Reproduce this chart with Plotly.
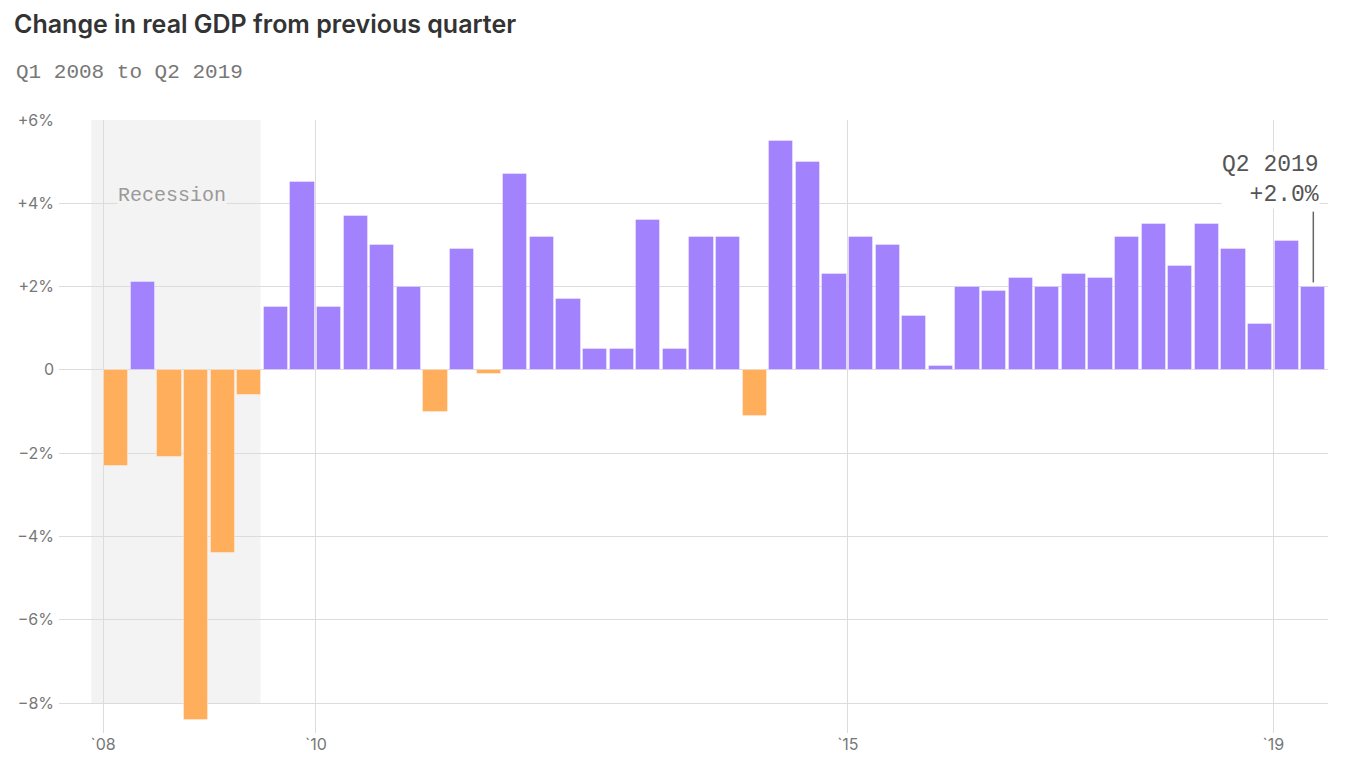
import plotly.graph_objects as go

quarters = [
    "Q1 2008", "Q2 2008", "Q3 2008", "Q4 2008",
    "Q1 2009", "Q2 2009", "Q3 2009", "Q4 2009",
    "Q1 2010", "Q2 2010", "Q3 2010", "Q4 2010",
    "Q1 2011", "Q2 2011", "Q3 2011", "Q4 2011",
    "Q1 2012", "Q2 2012", "Q3 2012", "Q4 2012",
    "Q1 2013", "Q2 2013", "Q3 2013", "Q4 2013",
    "Q1 2014", "Q2 2014", "Q3 2014", "Q4 2014",
    "Q1 2015", "Q2 2015", "Q3 2015", "Q4 2015",
    "Q1 2016", "Q2 2016", "Q3 2016", "Q4 2016",
    "Q1 2017", "Q2 2017", "Q3 2017", "Q4 2017",
    "Q1 2018", "Q2 2018", "Q3 2018", "Q4 2018",
    "Q1 2019", "Q2 2019",
]
gdp_change = [
    -2.3, 2.1, -2.1, -8.4,
    -4.4, -0.6, 1.5, 4.5,
    1.5, 3.7, 3.0, 2.0,
    -1.0, 2.9, -0.1, 4.7,
    3.2, 1.7, 0.5, 0.5,
    3.6, 0.5, 3.2, 3.2,
    -1.1, 5.5, 5.0, 2.3,
    3.2, 3.0, 1.3, 0.1,
    2.0, 1.9, 2.2, 2.0,
    2.3, 2.2, 3.2, 3.5,
    2.5, 3.5, 2.9, 1.1,
    3.1, 2.0,
]
x_tick_years = [2008, 2010, 2015, 2019]
x_tick_labels = ["`08", "`10", "`15", "`19"]
y_tick_vals = [-8, -6, -4, -2, 0, 2, 4, 6]
y_tick_labels = ["\u22128%", "\u22126%", "\u22124%", "\u22122%", "0", "+2%", "+4%", "+6%"]
recession_start = 2007.89
recession_end = 2009.48

POS = "#a283fd"
NEG = "#ffae5c"
MONO = "Liberation Mono, DejaVu Sans Mono, monospace"
SANS = "Inter, Roboto, Liberation Sans, sans-serif"

PLOT_W = 1366 - 59 - 38
PLOT_H = 768 - 120 - 35


def q_to_x(label):
    q, y = label.split()
    return int(y) + (int(q[1]) - 1) / 4 + 0.125


xs = [q_to_x(q) for q in quarters]
colors = [POS if v >= 0 else NEG for v in gdp_change]

fig = go.Figure()
fig.add_trace(go.Bar(
    x=xs, y=gdp_change, width=0.228,
    marker=dict(color=colors, line=dict(color="rgba(255,255,255,0.35)", width=1)),
    hoverinfo="skip",
))

fig.add_shape(type="rect", xref="x", yref="y",
              x0=recession_start, x1=recession_end, y0=-8, y1=6,
              fillcolor="#f3f3f3", line=dict(width=0), layer="below")

fig.add_annotation(x=2008.13, y=4.18, xref="x", yref="y", text="Recession",
                   showarrow=False, xanchor="left", yanchor="middle",
                   font=dict(family=MONO, size=20, color="#9a9a9a"),
                   bgcolor="#f3f3f3", borderpad=0)

last_x = xs[-1]
last_v = gdp_change[-1]
fig.add_shape(type="line", xref="x", yref="y",
              x0=last_x, x1=last_x, y0=last_v + 0.1, y1=3.8,
              line=dict(color="#666", width=1.5))
fig.add_annotation(x=2019.44, y=3.86, xref="x", yref="y",
                   text=f"{quarters[-1]}<br>+{last_v:.1f}%",
                   showarrow=False, xanchor="right", yanchor="bottom", align="right",
                   font=dict(family=MONO, size=23, color="#555"),
                   bgcolor="white", borderpad=0)

fig.update_layout(
    width=1366, height=768,
    margin=dict(l=59, r=38, t=120, b=35),
    paper_bgcolor="white", plot_bgcolor="white",
    showlegend=False, bargap=0,
    title=dict(text="Change in real GDP from previous quarter",
               x=14 / 1366, xref="container", xanchor="left", y=0.969, yanchor="middle",
               font=dict(family=SANS, size=25, color="#333", weight=600),
               pad=dict(l=0)),
)
fig.add_annotation(text="Q1 2008 to Q2 2019", xref="paper", yref="paper",
                   x=(14 - 59) / PLOT_W, y=1 + (120 - 72) / PLOT_H,
                   xanchor="left", yanchor="middle",
                   showarrow=False, font=dict(family=MONO, size=21, color="#777"))

fig.update_xaxes(range=[2007.586, 2019.513], tickvals=x_tick_years, ticktext=x_tick_labels,
                 showgrid=True, gridcolor="#dcdcdc", gridwidth=1, zeroline=False,
                 showline=False, ticks="", tickfont=dict(family=SANS, size=16, color="#777"),
                 fixedrange=True)
fig.update_yaxes(range=[-8.72, 6], tickvals=y_tick_vals, ticktext=y_tick_labels,
                 showgrid=True, gridcolor="#dcdcdc", gridwidth=1,
                 zeroline=True, zerolinecolor="#dcdcdc", zerolinewidth=1,
                 showline=False, ticks="", ticklabelstandoff=4,
                 tickfont=dict(family=SANS, size=16, color="#777"), fixedrange=True)

fig.write_html("out.html", config={"displayModeBar": False})
